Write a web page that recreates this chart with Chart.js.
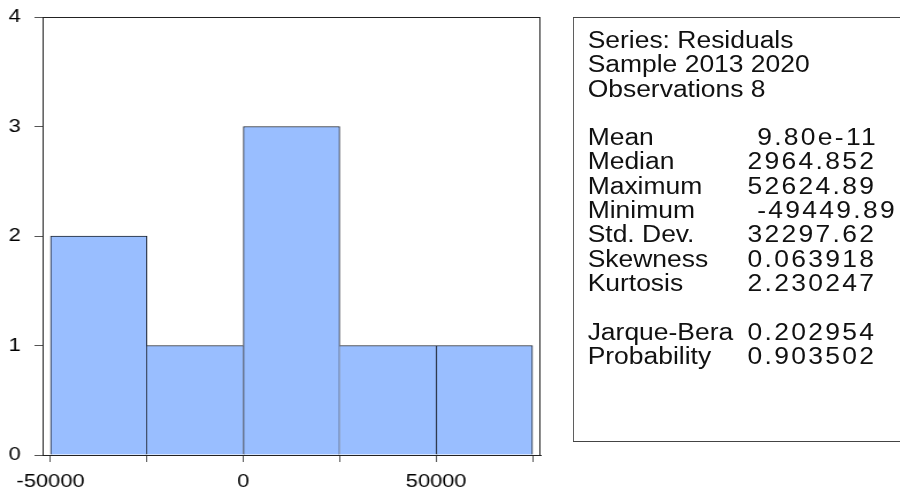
<!DOCTYPE html>
<html>
<head>
<meta charset="utf-8">
<script src="https://cdn.jsdelivr.net/npm/chart.js@4.4.1/dist/chart.umd.min.js"></script>
<style>
  html, body { margin: 0; padding: 0; background: #fff; overflow: hidden; }
  /* the reference is a horizontally stretched EViews picture, so stretch the whole page */
  #wrap { position: absolute; left: 0; top: 0; width: 783px; height: 491px;
          transform: scaleX(1.15); transform-origin: 0 0; }
  #plot { position: absolute; left: 0; top: 0; }
  #stats { position: absolute; left: 498px; top: 17px; width: 320px; height: 425px;
           box-sizing: border-box; border: 1px solid #444; border-right: none;
           padding: 10px 0 0 12px; color: #111;
           font-family: "Liberation Sans", Arial, sans-serif; font-size: 23px; }
  .row { position: relative; height: 24.3px; line-height: 24.3px; white-space: pre; }
  .row .v { position: absolute; left: 139px; top: 0; letter-spacing: 2px; }
</style>
</head>
<body>
<div id="wrap">
  <canvas id="plot" width="500" height="491"></canvas>
  <div id="stats"></div>
</div>
<script>
// histogram bins (centre of each 25000 wide bin) and counts
const binCenters = [-37500, -12500, 12500, 37500, 62500];
const counts = [2, 1, 3, 1, 1];

const xTicks = [-50000, -25000, 0, 25000, 50000, 75000];
const xLabelled = [-50000, 0, 50000];
const yTicks = [0, 1, 2, 3, 4];

// stats panel text
const headerLines = ["Series: Residuals", "Sample 2013 2020", "Observations 8"];
const statLabels = ["Mean", "Median", "Maximum", "Minimum", "Std. Dev.", "Skewness", "Kurtosis"];
const statValues = [" 9.80e-11", "2964.852", "52624.89", " -49449.89", "32297.62", "0.063918", "2.230247"];
const testLabels = ["Jarque-Bera", "Probability"];
const testValues = ["0.202954", "0.903502"];

// build the stats box
const stats = document.getElementById("stats");
function addRow(label, value) {
  const r = document.createElement("div");
  r.className = "row";
  r.textContent = label;
  if (value !== undefined) {
    const v = document.createElement("span");
    v.className = "v";
    v.textContent = value;
    r.appendChild(v);
  }
  stats.appendChild(r);
}
headerLines.forEach(t => addRow(t));
addRow("");
statLabels.forEach((t, i) => addRow(t, statValues[i]));
addRow("");
testLabels.forEach((t, i) => addRow(t, testValues[i]));

// draw a closed frame round the plot area
const framePlugin = {
  id: "frame",
  afterDatasetsDraw(chart) {
    const { ctx, chartArea: a } = chart;
    ctx.save();
    ctx.strokeStyle = "#222";
    ctx.lineWidth = 1;
    ctx.strokeRect(Math.round(a.left) + 0.5, Math.round(a.top) + 0.5,
                   Math.round(a.right - a.left) - 1, Math.round(a.bottom - a.top));
    ctx.restore();
  }
};

// only one line between neighbouring bars: the taller one draws it
function sideBorders(c) {
  const i = c.dataIndex;
  const n = counts.length;
  const left = (i === 0 || counts[i] >= counts[i - 1]) ? 1 : 0;
  const right = (i === n - 1 || counts[i] > counts[i + 1]) ? 1 : 0;
  return { top: 1, left: left, right: right, bottom: 0 };
}

const tickFont = { family: "'Liberation Sans', Arial, sans-serif", size: 19 };

new Chart(document.getElementById("plot"), {
  type: "bar",
  data: {
    datasets: [{
      data: binCenters.map((x, i) => ({ x: x, y: counts[i] })),
      backgroundColor: "rgb(153,190,255)",
      borderColor: "#1e2430",
      borderWidth: sideBorders,
      borderSkipped: false,
      barPercentage: 1,
      categoryPercentage: 1
    }]
  },
  options: {
    responsive: false,
    animation: false,
    layout: { padding: { top: 17, right: 30, left: 0, bottom: 0 } },
    plugins: { legend: { display: false }, tooltip: { enabled: false } },
    scales: {
      x: {
        type: "linear",
        min: -52070,
        max: 77070,
        offset: false,
        afterBuildTicks: s => { s.ticks = xTicks.map(v => ({ value: v })); },
        afterFit: s => { s.height = 36; },
        ticks: {
          autoSkip: false,
          maxRotation: 0,
          color: "#000",
          font: tickFont,
          padding: 8,
          callback: v => xLabelled.includes(v) ? String(v) : ""
        },
        grid: { offset: false, drawOnChartArea: false, tickLength: 7, tickColor: "#555" },
        border: { color: "#222" }
      },
      y: {
        min: 0,
        max: 4,
        afterBuildTicks: s => { s.ticks = yTicks.map(v => ({ value: v })); },
        afterFit: s => { s.width = 37; s.paddingTop = 0; s.paddingBottom = 0; },
        ticks: { color: "#000", font: tickFont, padding: 12 },
        grid: { drawOnChartArea: false, tickLength: 7, tickColor: "#555" },
        border: { color: "#555" }
      }
    }
  },
  plugins: [framePlugin]
});
</script>
</body>
</html>
